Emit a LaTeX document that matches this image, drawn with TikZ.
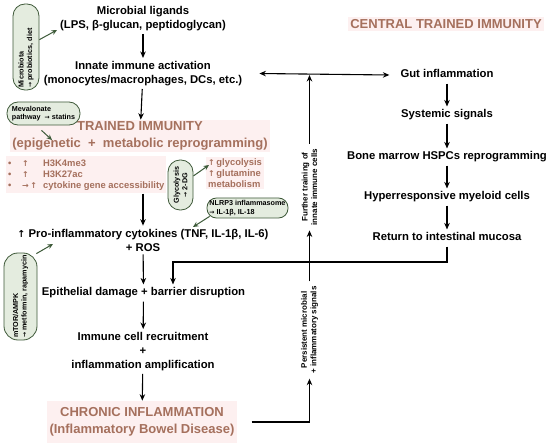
\documentclass[tikz,border=0pt]{standalone}
\usepackage{fontspec}
\setmainfont{Liberation Sans}
\newfontfamily\arrowfont[Scale=0.85]{DejaVu Sans}
\usepackage{xcolor}
\usepackage{tikz}
\usetikzlibrary{arrows.meta,positioning,calc}

\definecolor{brownc}{HTML}{A5705D}
\definecolor{pinkbg}{HTML}{FDF0F0}
\definecolor{pillfill}{HTML}{E4ECDF}
\definecolor{pilldraw}{HTML}{3F5A3A}
\definecolor{arrowgreen}{HTML}{3E5B3A}
\newcommand{\uparr}{{\arrowfont ↑}}
\newcommand{\rarr}{{\arrowfont →}}

\begin{document}
\begin{tikzpicture}[
  x=1pt, y=-1pt,
  flow/.style={font=\fontsize{11.3}{14}\selectfont\bfseries, align=center, inner sep=3pt},
  one/.style={flow, text height=8.3pt, text depth=2.4pt},
  title/.style={font=\fontsize{13}{16.5}\selectfont\bfseries, text=brownc, fill=pinkbg, align=center, inner sep=2pt},
  note/.style={font=\fontsize{9.4}{11}\selectfont\bfseries, text=brownc, fill=pinkbg, align=left, inner sep=2pt},
  pill/.style={draw=pilldraw, fill=pillfill, line width=0.8pt, font=\fontsize{7.2}{8.4}\selectfont\bfseries, inner sep=2pt, align=left},
  side/.style={font=\fontsize{8}{9.5}\selectfont\bfseries, align=center, rotate=90, inner sep=5pt},
  arrow/.style={-{Stealth[length=6.5pt,width=5.5pt]}, line width=1.1pt},
  garrow/.style={-{Stealth[length=5.5pt,width=5pt]}, line width=1pt, draw=arrowgreen}
]
\useasboundingbox[fill=white] (0,0) rectangle (550,444);

% main column
\node[flow] (ligands) at (143,18.5) {Microbial ligands\\(LPS, β-glucan, peptidoglycan)};
\node[flow] (innate) at (143,73.5) {Innate immune activation\\(monocytes/macrophages, DCs, etc.)};
\node[title] (trained) at (140,136) {TRAINED IMMUNITY\\(epigenetic~~+~~metabolic reprogramming)};
\node[note, anchor=west] (marks) at (6,175) {%
  \begin{tabular}{@{}p{14pt}@{}p{21pt}@{}l@{}}
  • & \uparr & H3K4me3\\
  • & \uparr & H3K27ac\\
  • & \rarr\,\uparr & cytokine gene accessibility
  \end{tabular}};
\node[note, anchor=west] (metab) at (206,173) {\uparr\,glycolysis\\\uparr\,glutamine\\metabolism};
\node[flow] (pro) at (143,240) {\uparr\ Pro-inflammatory cytokines (TNF, IL-1β, IL-6)\\+ ROS};
\node[one] (epi) at (143.5,293) {Epithelial damage + barrier disruption};
\node[flow] (recruit) at (143,351.5) {Immune cell recruitment\\+\\inflammation amplification};
\node[title, inner xsep=3pt, inner ysep=7pt] (chronic) at (142,422) {CHRONIC INFLAMMATION\\(Inflammatory Bowel Disease)};

% central trained immunity
\node[title] (central) at (446,24) {CENTRAL TRAINED IMMUNITY};
\node[one] (gut) at (447,75) {Gut inflammation};
\node[one] (sys) at (447,115) {Systemic signals};
\node[one] (bone) at (447,157) {Bone marrow HSPCs reprogramming};
\node[one] (hyper) at (447,197) {Hyperresponsive myeloid cells};
\node[one] (ret) at (447,238) {Return to intestinal mucosa};

% feedback labels
\node[side] (further) at (309.5,187) {Further training of\\innate immune cells};
\node[side] (persist) at (309.5,330) {Persistent microbial\\+ inflammatory signals};

% modulators
\node[pill, rotate=90, text width=82pt, minimum height=26pt, rounded corners=12pt] (micro) at (26,47) {Microbiota\\\rarr\ probiotics, diet};
\node[pill, minimum width=73pt, minimum height=23pt, rounded corners=11pt] (meva) at (43.5,113.5) {Mevalonate\\pathway\ \ \rarr\ statins};
\node[pill, rotate=90, align=center, minimum width=50pt, minimum height=25pt, rounded corners=12pt] (glyco) at (180.5,185) {Glycolysis\\\rarr\ 2-DG};
\node[pill, minimum width=81pt, minimum height=20pt, rounded corners=9.5pt] (nlrp) at (247.5,208) {NLRP3 inflammasome\\\rarr\ IL-1β, IL-18};
\node[pill, rotate=90, minimum width=87pt, minimum height=33pt, rounded corners=14pt] (mtor) at (20.5,296.5) {mTOR/AMPK\\\rarr\ metformin, rapamycin};

\coordinate (microtip) at (57,30);
\coordinate (mevatip) at (52,140);
\coordinate (glycotip) at (209,165);
\coordinate (nlrptip) at (193,227);
\coordinate (mtortip) at (53,244);
\coordinate (rbend) at (173,262);
\coordinate (topc) at (309.5,75);

% main flow
\draw[arrow] (ligands) -- (innate);
\draw[arrow] (innate) -- (trained);
\draw[arrow] (marks.south -| pro) -- (pro);
\draw[arrow] (pro) -- (epi);
\draw[arrow] (epi) -- (recruit);
\draw[arrow] (recruit) -- (chronic);

\draw[arrow] (gut) -- (sys);
\draw[arrow] (sys) -- (bone);
\draw[arrow] (bone) -- (hyper);
\draw[arrow] (hyper) -- (ret);
\draw[arrow] (ret.south) |- (rbend) -- (rbend |- epi.north);

\draw[arrow, {Stealth[length=6.5pt,width=5.5pt]}-{Stealth[length=6.5pt,width=5.5pt]}] ([xshift=14pt]innate.east) -- ([xshift=-8pt]gut.west);
\draw[arrow] ([xshift=14pt]chronic.east) -| (persist.west);
\draw[arrow] (persist.east) -- (further.west);
\draw[arrow] (further.east) -- (topc);

% modulator arrows
\draw[garrow] (micro) -- (microtip);
\draw[garrow] ([xshift=-2pt,yshift=-5pt]meva.south) -- (mevatip);
\draw[garrow] (glyco) -- (glycotip);
\draw[garrow] ([xshift=3pt,yshift=2pt]nlrp.south west) -- (nlrptip);
\draw[garrow] ([xshift=-1pt,yshift=-1pt]mtor.south east) -- (mtortip);
\end{tikzpicture}
\end{document}
